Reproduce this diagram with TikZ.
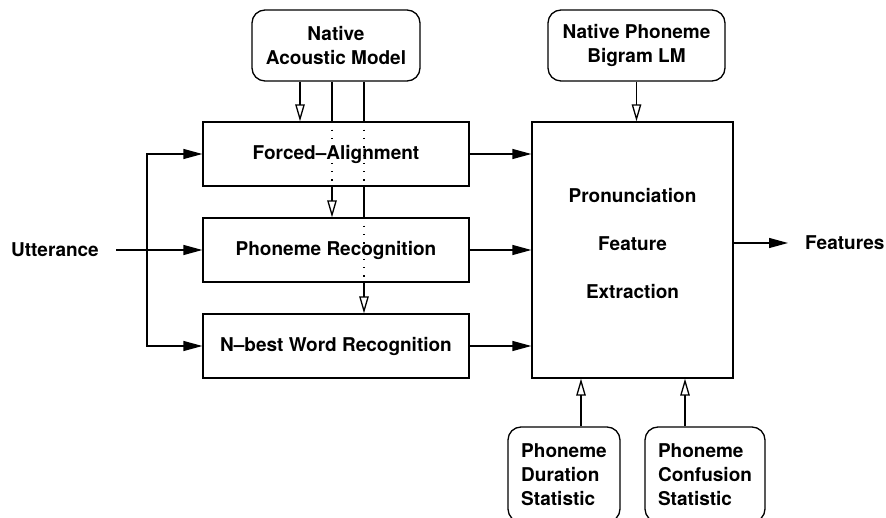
\documentclass[tikz,border=0pt]{standalone}
\usepackage{fontspec}
\setmainfont{TeX Gyre Heros}
\usetikzlibrary{arrows.meta,calc}
\begin{document}
\begin{tikzpicture}[x=1pt,y=-1pt,
  every node/.style={font=\fontsize{19}{24}\selectfont\bfseries},
  lw/.style={line width=1.3pt},
  blk/.style={draw,lw,rectangle,inner sep=0pt,align=center},
  rblk/.style={draw,lw,rectangle,rounded corners=13pt,inner sep=0pt},
  farr/.style={lw,-{Triangle[length=19pt,width=10pt]}},
  oarr/.style={lw,-{Triangle[open,length=17pt,width=9.5pt]}},
  dotl/.style={line width=1.3pt,dash pattern=on 1.3pt off 7pt}]
\useasboundingbox (0,0) rectangle (886,518);
% nodes
\node[rblk,align=center,minimum width=168pt,minimum height=71pt] (NAM) at (336,45.5) {Native\\Acoustic Model};
\node[rblk,align=center,minimum width=177pt,minimum height=71pt] (BLM) at (636.5,45.5) {Native Phoneme\\Bigram LM};
\node[blk,minimum width=266pt,minimum height=64pt] (FA) at (336,154) {Forced--Alignment};
\node[blk,minimum width=266pt,minimum height=64pt] (PR) at (336,250) {Phoneme Recognition};
\node[blk,minimum width=266pt,minimum height=64pt] (NB) at (336,346) {N--best Word Recognition};
\node[blk,minimum width=201pt,minimum height=256pt,
  label={[align=center,yshift=6pt,inner sep=0pt]center:Pronunciation\\[24pt]Feature\\[24pt]Extraction}] (PFE) at (632.5,250) {};
\node[rblk,align=left,minimum width=112pt,minimum height=95pt] (PDS) at (564,474.5) {Phoneme\\Duration\\Statistic};
\node[rblk,align=left,minimum width=120pt,minimum height=95pt] (PCS) at (705,474.5) {Phoneme\\Confusion\\Statistic};
\node[inner xsep=17pt,inner ysep=0pt] (U) at (55,250) {Utterance};
\node[inner xsep=17pt,inner ysep=0pt,anchor=west] (F) at (788,243) {Features};
% helper coordinates
\coordinate (a1) at (300,0);
\coordinate (a2) at (332,0);
\coordinate (a3) at (364,0);
\coordinate (d1) at (581,0);
\coordinate (d2) at (685,0);
\coordinate (br) at (147,250);
% utterance
\draw[farr] (U.east) -- (PR.west);
\draw[farr] (br) |- (FA.west);
\draw[farr] (br) |- (NB.west);
% acoustic model lines
\draw[oarr] (NAM.south -| a1) -- (FA.north -| a1);
\draw[lw] (NAM.south -| a2) -- (FA.north -| a2);
\draw[dotl] (FA.north -| a2) -- (FA.south -| a2);
\draw[oarr] (FA.south -| a2) -- (PR.north -| a2);
\draw[lw] (NAM.south -| a3) -- (FA.north -| a3);
\draw[dotl] (FA.north -| a3) -- (FA.south -| a3);
\draw[lw] (FA.south -| a3) -- (PR.north -| a3);
\draw[dotl] (PR.north -| a3) -- (PR.south -| a3);
\draw[oarr] (PR.south -| a3) -- (NB.north -| a3);
% to PFE
\draw[farr] (FA.east) -- (PFE.west |- FA.east);
\draw[farr] (PR.east) -- (PFE.west |- PR.east);
\draw[farr] (NB.east) -- (PFE.west |- NB.east);
\draw[oarr] (BLM.south) -- (PFE.north -| BLM.south);
\draw[oarr] (PDS.north -| d1) -- (PFE.south -| d1);
\draw[oarr] (PCS.north -| d2) -- (PFE.south -| d2);
\draw[farr] (PFE.east |- F.west) -- (F.west);
\end{tikzpicture}
\end{document}
